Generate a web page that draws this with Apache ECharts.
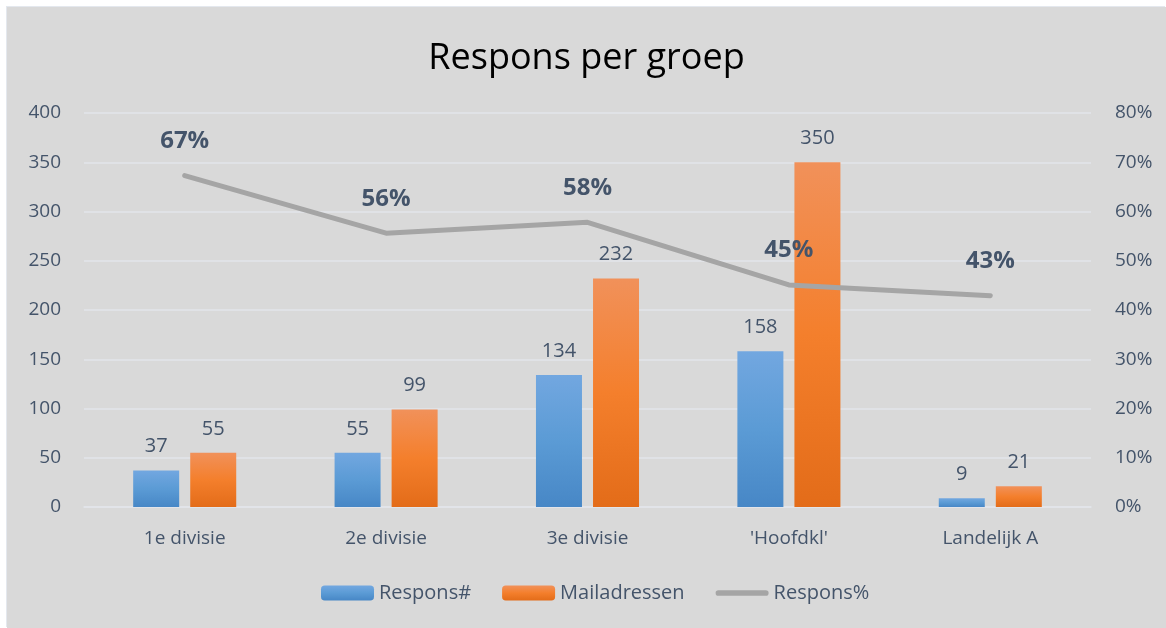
<!DOCTYPE html>
<html>
<head>
<meta charset="utf-8">
<script src="https://cdn.jsdelivr.net/npm/echarts@6/dist/echarts.min.js"></script>
<style>
  html, body { margin: 0; padding: 0; background: #fff; }
  #chart {
    position: absolute; left: 7px; top: 7px;
    width: 1159px; height: 621px;
    background: #d9d9d9;
    box-shadow: -1px -1px 0 #e4e8ee;
  }
</style>
</head>
<body>
<div id="chart"></div>
<script>
// data
var categories = ['1e divisie', '2e divisie', '3e divisie', "'Hoofdkl'", 'Landelijk A'];
var responsCount = [37, 55, 134, 158, 9];
var mailAdressen = [55, 99, 232, 350, 21];
var responsPct = [0.673, 0.556, 0.578, 0.451, 0.429];

var textColor = '#44546a';
var gridColor = '#e2e5ea';
var font = '"Open Sans", "Noto Sans", sans-serif';

var myChart = echarts.init(document.getElementById('chart'));
var option = {
  backgroundColor: 'transparent',
  textStyle: { fontFamily: font },
  title: {
    text: 'Respons per groep',
    left: 'center',
    top: 29,
    textStyle: { fontFamily: font, fontSize: 36, fontWeight: 'normal', color: '#000' }
  },
  legend: {
    top: 571,
    left: 309,
    itemWidth: 53,
    itemHeight: 15,
    itemGap: 31,
    textStyle: { fontSize: 20, color: textColor, fontFamily: font },
    data: [
      'Respons#',
      'Mailadressen',
      { name: 'Respons%', icon: 'path://M3,0 L53,0 A3,3 0 0 1 53,6 L3,6 A3,3 0 0 1 3,0 Z' }
    ]
  },
  grid: { left: 77, right: 75, top: 106, bottom: 121 },
  xAxis: {
    type: 'category',
    data: categories,
    axisTick: { show: false },
    axisLine: { lineStyle: { color: gridColor, width: 1.5 } },
    axisLabel: { fontSize: 19, color: textColor, margin: 22 }
  },
  yAxis: [
    {
      type: 'value', min: 0, max: 400, interval: 50,
      axisLine: { show: false }, axisTick: { show: false },
      axisLabel: { fontSize: 19, color: textColor, margin: 23 },
      splitLine: { lineStyle: { color: gridColor, width: 1.5 } }
    },
    {
      type: 'value', min: 0, max: 0.8, interval: 0.1,
      axisLine: { show: false }, axisTick: { show: false },
      axisLabel: {
        fontSize: 19, color: textColor, margin: 24,
        formatter: function (v) { return Math.round(v * 100) + '%'; }
      },
      splitLine: { show: false }
    }
  ],
  series: [
    {
      name: 'Respons#',
      type: 'bar',
      barWidth: 46,
      barGap: '24%',
      data: responsCount,
      itemStyle: {
        color: {
          type: 'linear', x: 0, y: 0, x2: 0, y2: 1,
          colorStops: [
            { offset: 0, color: '#72a7e0' },
            { offset: 0.5, color: '#5b9bd5' },
            { offset: 1, color: '#4787c6' }
          ]
        }
      },
      label: { show: true, position: 'top', distance: 14, fontSize: 20, color: textColor }
    },
    {
      name: 'Mailadressen',
      type: 'bar',
      barWidth: 46,
      data: mailAdressen,
      itemStyle: {
        color: {
          type: 'linear', x: 0, y: 0, x2: 0, y2: 1,
          colorStops: [
            { offset: 0, color: '#f1915a' },
            { offset: 0.5, color: '#f47f2c' },
            { offset: 1, color: '#e36c19' }
          ]
        }
      },
      label: { show: true, position: 'top', distance: 14, fontSize: 20, color: textColor }
    },
    {
      name: 'Respons%',
      type: 'line',
      yAxisIndex: 1,
      data: responsPct,
      symbol: 'circle',
      symbolSize: 1,
      showSymbol: true,
      lineStyle: { color: '#a5a5a5', width: 5, cap: 'round', join: 'round' },
      itemStyle: { color: '#a5a5a5' },
      label: {
        show: true, position: 'top', distance: 22,
        fontSize: 24, fontWeight: 'bold', color: textColor,
        formatter: function (p) { return Math.round(p.value * 100) + '%'; }
      },
      z: 5
    }
  ]
};
myChart.setOption(option);
</script>
</body>
</html>
